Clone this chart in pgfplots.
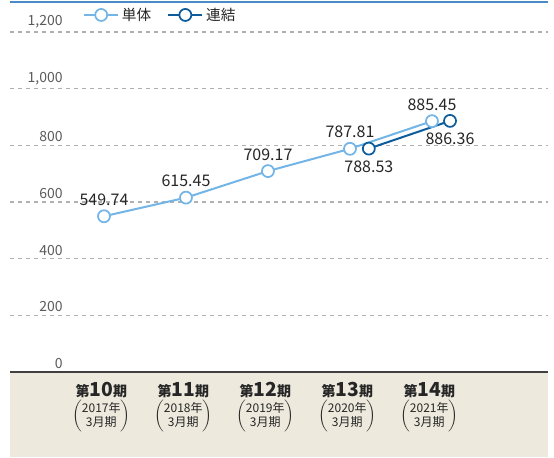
\documentclass[border=0pt]{standalone}
\usepackage{fontspec}
\setmainfont{Noto Sans CJK JP}
\usepackage{pgfplots}
\pgfplotsset{compat=1.18}
\definecolor{Single}{HTML}{72B5E6}
\definecolor{Consol}{HTML}{0D5C9B}
\definecolor{Beige}{HTML}{EDEADD}
\definecolor{TickGray}{HTML}{5A5A5A}
\definecolor{GridGray}{HTML}{B0B0B0}
\definecolor{TopBlue}{HTML}{4A8BC7}

% category label: big bold period number, fiscal year in parentheses below
\newcommand{\period}[2]{{\bfseries\fontsize{10.5}{12}\selectfont 第{\fontsize{14.5}{15}\selectfont #1}期}\\[1pt]{\fontsize{9}{9.5}\selectfont$\left(\begin{tabular}{@{}c@{}}#2年\\3月期\end{tabular}\right)$}}

\begin{document}
\begin{tikzpicture}
% beige band under the plot area (axis sits with its south west corner at the origin)
\fill[Beige] (0,0) rectangle (403.5pt,-63.75pt);
\begin{axis}[
    name=ax,
    scale only axis,
    width=403.5pt, height=277.5pt,
    xmin=-1.146, xmax=5.415,
    ymin=0, ymax=1306,
    clip=false,
    axis x line=bottom, axis y line=left,
    axis line style={draw=none},
    major tick length=0pt,
    ymajorgrids,
    grid style={GridGray, line width=0.8pt, dash pattern=on 3pt off 3pt},
    ytick={0,200,...,1200},
    yticklabel style={anchor=south east, xshift=43pt, yshift=-1pt, text=TickGray, font=\fontsize{10.5}{12}\selectfont},
    /pgf/number format/assume math mode=true,
    /pgf/number format/1000 sep={,},
    xtick={0,...,4},
    xticklabels={\period{10}{2017},\period{11}{2018},\period{12}{2019},\period{13}{2020},\period{14}{2021}},
    xticklabel style={align=center, anchor=north, yshift=-4pt, xshift=-2pt, text=black!85},
    legend columns=2,
    legend style={draw=none, fill=none, at={(rel axis cs:0.128,0.965)}, anchor=west,
        font=\fontsize{11}{12}\selectfont, text=black!85,
        /tikz/every even column/.append style={column sep=10pt}},
    legend image code/.code={\draw[mark repeat=2, mark phase=2, #1] plot coordinates {(0cm,0cm) (0.45cm,0cm) (0.9cm,0cm)};},
    nodes near coords,
    point meta=explicit symbolic,
    every node near coord/.append style={font=\fontsize{12}{14}\selectfont, text=black!85},
]
\addplot[Single, line width=1.5pt, mark=*, mark size=4.5pt,
    mark options={fill=white, line width=1.3pt},
    every node near coord/.append style={anchor=south, yshift=4pt}]
    coordinates {(0,549.74)[549.74] (1,615.45)[615.45] (2,709.17)[709.17] (3,787.81)[787.81] (4,885.45)[885.45]};
\addlegendentry{単体}
\addplot[Consol, line width=1.5pt, mark=*, mark size=4.5pt,
    mark options={fill=white, line width=1.3pt},
    every node near coord/.append style={anchor=north, yshift=-5pt}]
    coordinates {(3.23,788.53)[788.53] (4.22,886.36)[886.36]};
\addlegendentry{連結}

\draw[TopBlue, line width=1.2pt] (rel axis cs:0,1) -- (rel axis cs:1,1);
\draw[black!75, line width=1.5pt] (rel axis cs:0,0) -- (rel axis cs:1,0);
\end{axis}
\pgfresetboundingbox
\useasboundingbox ([shift={(-7.5pt,-63.75pt)}]ax.south west) rectangle ([shift={(4.5pt,1.5pt)}]ax.north east);
\end{tikzpicture}
\end{document}
